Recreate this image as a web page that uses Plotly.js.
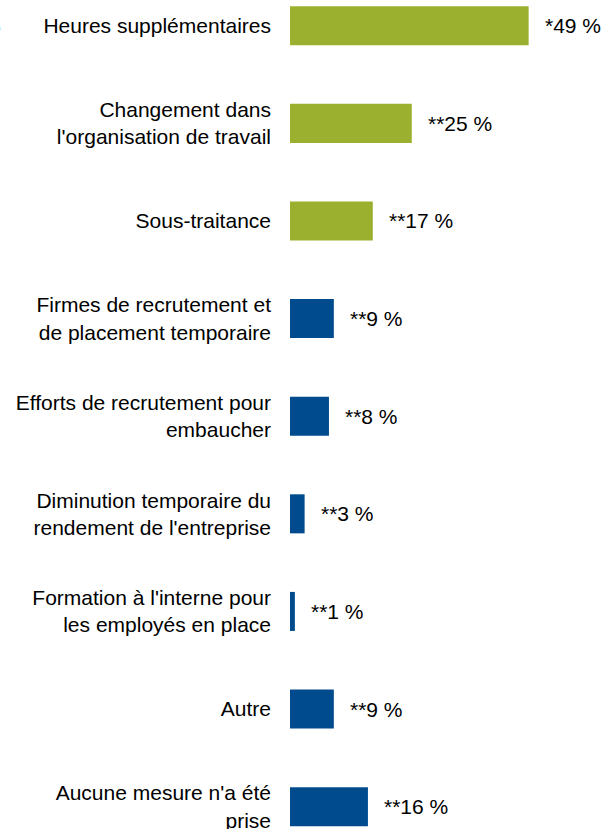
<!DOCTYPE html>
<html>
<head>
<meta charset="utf-8">
<script src="https://cdn.plot.ly/plotly-3.0.1.min.js"></script>
<style>
  html, body { margin: 0; padding: 0; background: #ffffff; }
  #chart { width: 602px; height: 829px; }
</style>
</head>
<body>
<div id="chart"></div>
<script>
const categories = [
  "Heures supplémentaires",
  "Changement dans<br>l'organisation de travail",
  "Sous-traitance",
  "Firmes de recrutement et<br>de placement temporaire",
  "Efforts de recrutement pour<br>embaucher",
  "Diminution temporaire du<br>rendement de l'entreprise",
  "Formation à l'interne pour<br>les employés en place",
  "Autre",
  "Aucune mesure n'a été<br>prise"
];
const values = [49, 25, 17, 9, 8, 3, 1, 9, 16];
const valueLabels = ["*49 %", "**25 %", "**17 %", "**9 %", "**8 %", "**3 %", "**1 %", "**9 %", "**16 %"];
const barColors = ["#9BB02E", "#9BB02E", "#9BB02E", "#004B8D", "#004B8D", "#004B8D", "#004B8D", "#004B8D", "#004B8D"];

const font = "Liberation Sans, Arial, sans-serif";

const trace = {
  type: "bar",
  orientation: "h",
  x: values,
  y: categories,
  width: 0.4,
  marker: { color: barColors, line: { width: 0 } },
  hoverinfo: "skip"
};

const annotations = values.map((v, i) => ({
  x: v,
  y: categories[i],
  xref: "x",
  yref: "y",
  text: valueLabels[i],
  showarrow: false,
  xanchor: "left",
  yanchor: "middle",
  xshift: 14,
  font: { family: font, size: 21, color: "#000000" }
}));

// clipped fragment visible at the far left of the first row
annotations.push({
  x: (3 - 290) / 310,
  y: categories[0],
  xref: "paper",
  yref: "y",
  text: "%",
  showarrow: false,
  xanchor: "right",
  yanchor: "middle",
  font: { family: font, size: 21, color: "#000000" }
});

const layout = {
  width: 602,
  height: 829,
  margin: { l: 290, r: 2, t: 0, b: 0, pad: 0 },
  paper_bgcolor: "#ffffff",
  plot_bgcolor: "#ffffff",
  showlegend: false,
  font: { family: font, size: 21, color: "#000000" },
  xaxis: {
    range: [0, 63.65],
    visible: false,
    showgrid: false,
    zeroline: false,
    fixedrange: true
  },
  yaxis: {
    type: "category",
    categoryorder: "array",
    categoryarray: categories,
    range: [8.229, -0.264],
    showgrid: false,
    zeroline: false,
    showline: false,
    ticks: "",
    ticklabelstandoff: 18,
    tickfont: { family: font, size: 21, color: "#000000" },
    fixedrange: true
  },
  annotations: annotations
};

Plotly.newPlot("chart", [trace], layout, { displayModeBar: false, staticPlot: true });
</script>
</body>
</html>
